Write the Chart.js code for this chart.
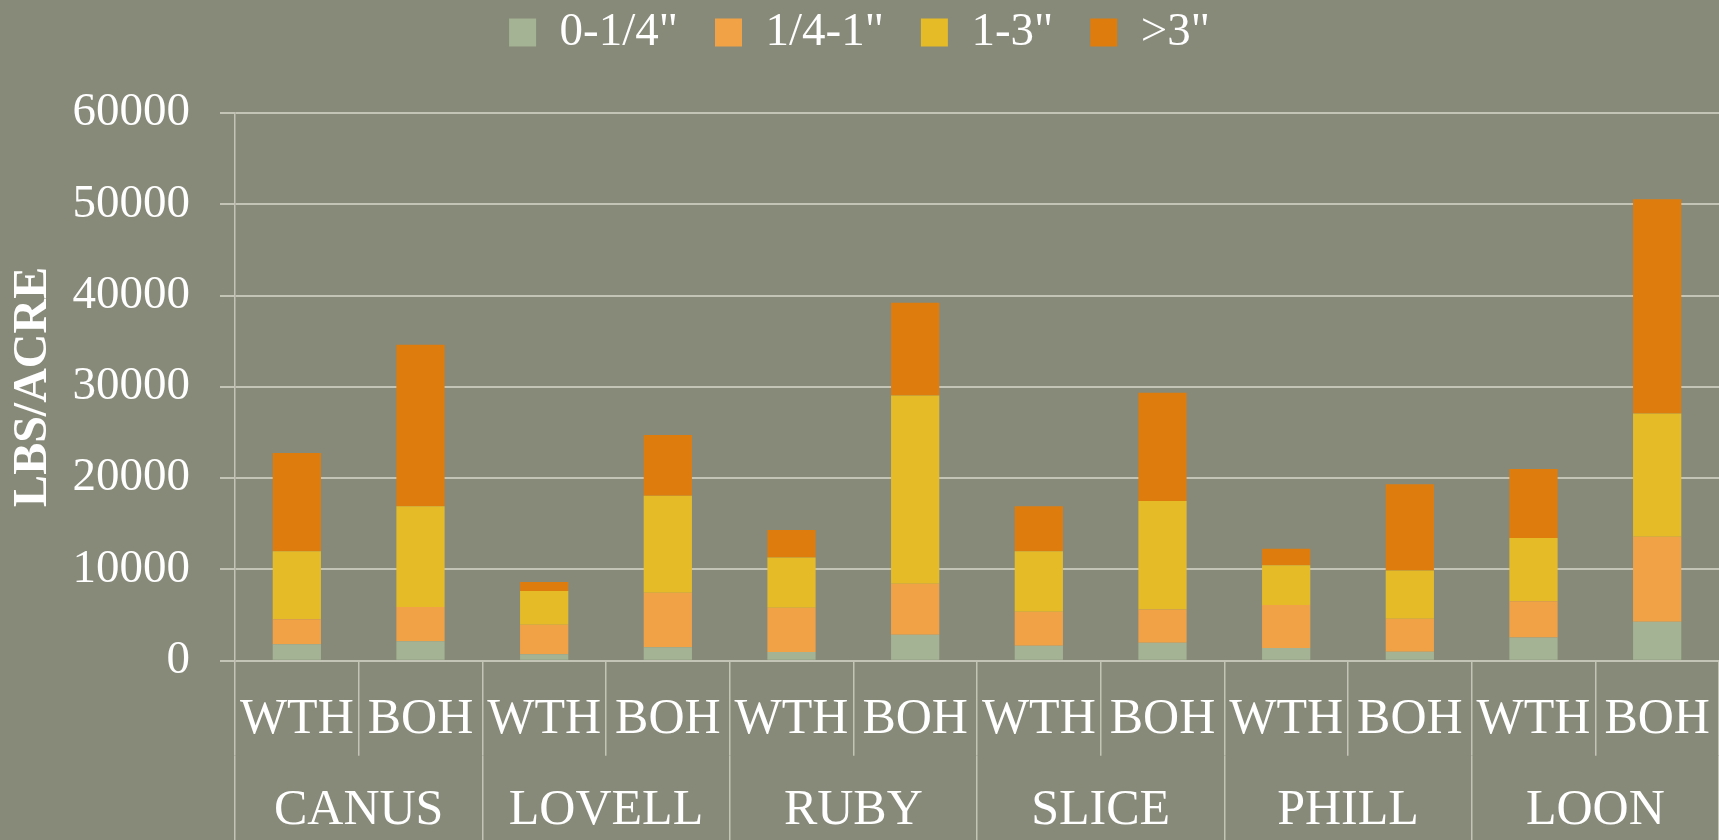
<!DOCTYPE html>
<html>
<head>
<meta charset="utf-8">
<script src="https://cdn.jsdelivr.net/npm/chart.js@4"></script>
<style>
  html, body { margin: 0; padding: 0; background: #878a79; }
  #wrap { width: 1719px; height: 840px; }
</style>
</head>
<body>
<div id="wrap"><canvas id="chart"></canvas></div>
<script>
// sub categories (treatment) and their groups (site)
const treatments = ['WTH', 'BOH', 'WTH', 'BOH', 'WTH', 'BOH', 'WTH', 'BOH', 'WTH', 'BOH', 'WTH', 'BOH'];
const sites = ['CANUS', 'LOVELL', 'RUBY', 'SLICE', 'PHILL', 'LOON'];

// lbs/acre per size class
const fine = [1800, 2130, 700, 1470, 950, 2830, 1650, 1980, 1390, 990, 2530, 4260];
const small = [2750, 3740, 3230, 5980, 4850, 5610, 3710, 3630, 4700, 3600, 3970, 9320];
const medium = [7450, 11050, 3700, 10610, 5500, 20620, 6640, 11890, 4370, 5280, 6930, 13510];
const large = [10750, 17680, 990, 6670, 3010, 10140, 4920, 11840, 1800, 9470, 7560, 23460];

const yTicks = [0, 10000, 20000, 30000, 40000, 50000, 60000];

const gridColor = '#c3c3b6';
const font = 'Liberation Serif';

// make room above the plot for the legend
const legendHeight = {
    id: 'legendHeight',
    beforeInit(chart) {
        const fit = chart.legend.fit;
        chart.legend.fit = function () {
            fit.call(this);
            this.height = 141;
        };
    }
};

new Chart(document.getElementById('chart'), {
    type: 'bar',
    data: {
        labels: treatments,
        datasets: [
            { label: '0-1/4"', data: fine, backgroundColor: '#a3b393' },
            { label: '1/4-1"', data: small, backgroundColor: '#f2a246' },
            { label: '1-3"', data: medium, backgroundColor: '#e6bb28' },
            { label: '>3"', data: large, backgroundColor: '#df7c0e' }
        ]
    },
    plugins: [legendHeight],
    options: {
        responsive: true,
        maintainAspectRatio: false,
        animation: false,
        datasets: { bar: { barPercentage: 0.39, categoryPercentage: 1 } },
        layout: { padding: { top: -28, left: 0, right: 0, bottom: 0 } },
        plugins: {
            tooltip: { enabled: false },
            legend: {
                position: 'top',
                labels: {
                    color: '#ffffff',
                    font: { family: font, size: 47 },
                    boxWidth: 27,
                    boxHeight: 28,
                    padding: 37
                }
            }
        },
        scales: {
            x: {
                stacked: true,
                weight: 0,
                border: { display: false },
                grid: {
                    offset: true,
                    drawOnChartArea: false,
                    tickLength: 95,
                    color: gridColor,
                    lineWidth: 1.5
                },
                ticks: {
                    color: '#ffffff',
                    font: { family: font, size: 50 },
                    padding: -66,
                    maxRotation: 0,
                    autoSkip: false
                },
                afterFit(scale) { scale.height = 95; }
            },
            x2: {
                type: 'category',
                labels: sites,
                position: 'bottom',
                weight: 1,
                border: { display: false },
                grid: {
                    offset: true,
                    drawOnChartArea: false,
                    tickLength: 85,
                    color: gridColor,
                    lineWidth: 1.5
                },
                ticks: {
                    color: '#ffffff',
                    font: { family: font, size: 50 },
                    padding: -60,
                    maxRotation: 0,
                    autoSkip: false
                },
                afterFit(scale) { scale.height = 84.3; }
            },
            y: {
                stacked: true,
                min: 0,
                max: 60000,
                afterBuildTicks(scale) { scale.ticks = yTicks.map(v => ({ value: v })); },
                border: { display: true, color: gridColor, width: 1.5 },
                grid: { color: gridColor, lineWidth: 2, tickLength: 15 },
                ticks: {
                    color: '#ffffff',
                    font: { family: font, size: 47 },
                    padding: 30,
                    callback: v => String(v)
                },
                title: {
                    display: true,
                    text: 'LBS/ACRE',
                    color: '#ffffff',
                    font: { family: font, size: 48, weight: 'bold' },
                    padding: { top: 5, bottom: 0 }
                },
                afterFit(scale) { scale.width = 235; }
            }
        }
    }
});
</script>
</body>
</html>
